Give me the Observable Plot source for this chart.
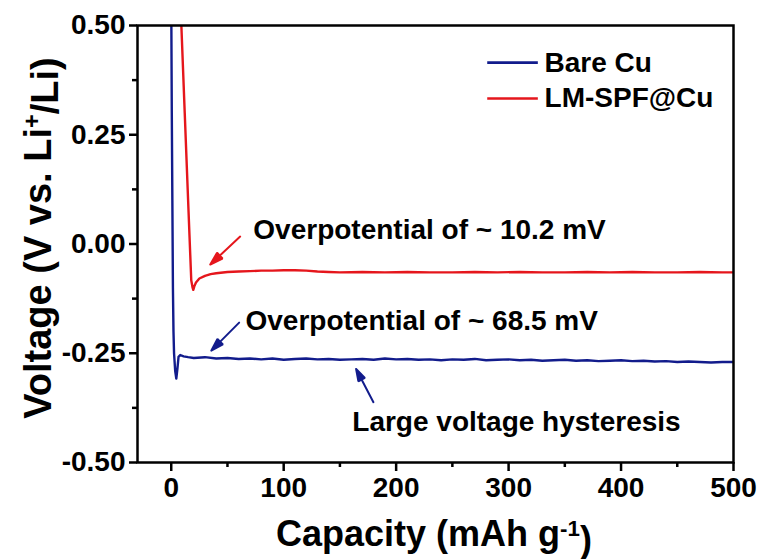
<!DOCTYPE html>
<html>
<head>
<meta charset="utf-8">
<script src="https://cdn.jsdelivr.net/npm/d3@7"></script>
<script src="https://cdn.jsdelivr.net/npm/@observablehq/plot@0.6"></script>
<style>
  html, body { margin: 0; padding: 0; background: #fff; }
  #chart { width: 761px; height: 559px; }
</style>
</head>
<body>
<div id="chart"></div>
<script>
// ---- data ----
const seriesNames = ["Bare Cu", "LM-SPF@Cu"];
const seriesColors = ["#121c8c", "#e5161c"];

const bareX = [0, 0.5, 1, 1.5, 2, 2.5, 3.5, 4.5, 5.5, 6.5, 8, 11, 15,
  20, 30, 40, 50, 60, 70, 80, 90, 100, 110,
  120, 130, 140, 150, 160, 170, 180, 190, 200, 210,
  220, 230, 240, 250, 260, 270, 280, 290, 300, 310,
  320, 330, 340, 350, 360, 370, 380, 390, 400, 410,
  420, 430, 440, 450, 460, 470, 480, 490, 500];
const bareY = [0.56, 0.3, 0.1, -0.1, -0.2, -0.25, -0.29, -0.308, -0.285, -0.258, -0.254, -0.257, -0.259,
  -0.261, -0.259, -0.262, -0.261, -0.263, -0.262, -0.264, -0.262, -0.265, -0.263,
  -0.262, -0.264, -0.263, -0.265, -0.264, -0.263, -0.265, -0.262, -0.264, -0.263,
  -0.265, -0.264, -0.266, -0.264, -0.265, -0.263, -0.266, -0.265, -0.264, -0.266,
  -0.265, -0.267, -0.266, -0.265, -0.267, -0.266, -0.268, -0.267, -0.266, -0.268,
  -0.267, -0.269, -0.268, -0.270, -0.269, -0.270, -0.271, -0.270, -0.270];

const lmX = [8.5, 9, 12, 15, 17.8, 19, 19.6, 20.5, 22, 25, 30, 35, 40, 50, 60, 70, 80, 90, 100,
  110, 120, 130, 140, 150, 170, 190, 210, 230, 250, 270, 290, 310, 330, 350, 370, 390,
  410, 430, 450, 470, 490, 500];
const lmY = [0.55, 0.5, 0.3, 0.1, -0.083, -0.1, -0.105, -0.097, -0.088, -0.079, -0.073, -0.069, -0.067, -0.064, -0.063, -0.062, -0.061, -0.061, -0.060,
  -0.060, -0.061, -0.063, -0.064, -0.065, -0.064, -0.065, -0.064, -0.065, -0.065, -0.064, -0.065, -0.064, -0.065, -0.065, -0.064, -0.065,
  -0.064, -0.065, -0.065, -0.064, -0.065, -0.065];

const xTicks = [0, 100, 200, 300, 400, 500];
const xMinor = [50, 150, 250, 350, 450];
const yTicks = [-0.5, -0.25, 0, 0.25, 0.5];
const yMinor = [-0.375, -0.125, 0.125, 0.375];

const noteText = ["Overpotential of ~ 10.2 mV", "Overpotential of ~ 68.5 mV", "Large voltage hysteresis"];
const noteX = [73, 66, 161];
const noteY = [0.031, -0.177, -0.408];
const arrowX1 = [61.3, 60.4, 179.8];
const arrowY1 = [0.017, -0.180, -0.362];
const arrowX2 = [34.7, 35.6, 164.4];
const arrowY2 = [-0.047, -0.244, -0.286];
const arrowColor = [seriesColors[1], seriesColors[0], seriesColors[0]];

const legendX1 = 281, legendX2 = 326, legendTextX = 332;
const legendY = [0.415, 0.333];

// ---- tables ----
const bare = bareX.map((x, i) => ({x, y: bareY[i]}));
const lm = lmX.map((x, i) => ({x, y: lmY[i]}));
const notes = noteText.map((t, i) => ({t, x: noteX[i], y: noteY[i]}));
const arrows = arrowX1.map((x1, i) => ({x1, y1: arrowY1[i], x2: arrowX2[i], y2: arrowY2[i], c: arrowColor[i]}));
const legend = seriesNames.map((n, i) => ({n, c: seriesColors[i], y: legendY[i]}));

const FONT = "'Liberation Sans', Arial, Helvetica, sans-serif";

const svg = Plot.plot({
  width: 761,
  height: 559,
  marginLeft: 137,
  marginRight: 28,
  marginTop: 25,
  marginBottom: 97,
  x: {domain: [-30, 500]},
  y: {domain: [-0.5, 0.5]},
  style: {fontFamily: FONT, fontWeight: "bold", background: "#fff", color: "#000"},
  marks: [
    Plot.line(bare, {x: "x", y: "y", stroke: seriesColors[0], strokeWidth: 2.4, clip: true}),
    Plot.line(lm, {x: "x", y: "y", stroke: seriesColors[1], strokeWidth: 2.4, clip: true}),
    Plot.arrow(arrows, {x1: "x1", y1: "y1", x2: "x2", y2: "y2", stroke: "c", strokeWidth: 2, headLength: 13, headAngle: 34, className: "annot-arrow"}),
    Plot.text(notes, {x: "x", y: "y", text: "t", textAnchor: "start", lineAnchor: "middle", fontSize: 28, fontWeight: "bold", fill: "#000"}),
    Plot.link(legend, {x1: legendX1, x2: legendX2, y1: "y", y2: "y", stroke: "c", strokeWidth: 2.6}),
    Plot.text(legend, {x: legendTextX, y: "y", text: "n", textAnchor: "start", lineAnchor: "middle", fontSize: 28, fontWeight: "bold", fill: "#000"}),
    Plot.axisY({ticks: yTicks, tickSize: 8, tickPadding: 4, tickFormat: d => d.toFixed(2), fontSize: 28, fontWeight: "bold", strokeWidth: 2.5, label: null}),
    Plot.axisY({ticks: yMinor, tickSize: 5, tickFormat: () => "", strokeWidth: 2.5, label: null}),
    Plot.axisX({ticks: xTicks, tickSize: 9, tickPadding: 6, tickFormat: d => String(d), fontSize: 28, fontWeight: "bold", strokeWidth: 2.5, label: null}),
    Plot.axisX({ticks: xMinor, tickSize: 5, tickFormat: () => "", strokeWidth: 2.5, label: null}),
    Plot.frame({stroke: "#000", strokeWidth: 2.5})
  ]
});

const s = d3.select(svg);

// turn the open arrow heads into filled triangles
s.selectAll("g.annot-arrow path").each(function () {
  const p = d3.select(this);
  const nums = (p.attr("d") || "").match(/-?\d*\.?\d+(?:e-?\d+)?/g);
  if (!nums || nums.length < 10) return;
  const n = nums.map(Number);
  const [x1, y1, x2, y2, hx1, hy1, , , hx2, hy2] = n;
  p.attr("d", `M${x1},${y1}L${x2},${y2}M${hx1},${hy1}L${x2},${y2}L${hx2},${hy2}Z`)
   .attr("fill", p.attr("stroke") || null)
   .attr("stroke-linejoin", "miter");
});

// axis titles with superscripts
const yt = s.append("text")
  .attr("transform", "translate(51,238) rotate(-90)")
  .attr("text-anchor", "middle")
  .attr("font-family", FONT).attr("font-weight", "bold").attr("font-size", 38).attr("fill", "#000");
yt.append("tspan").text("Voltage (V vs. Li");
yt.append("tspan").attr("dy", "-0.45em").attr("font-size", "0.62em").text("+");
yt.append("tspan").attr("dy", "0.45em").text("/Li)");

const xt = s.append("text")
  .attr("x", 434).attr("y", 546)
  .attr("text-anchor", "middle")
  .attr("font-family", FONT).attr("font-weight", "bold").attr("font-size", 36).attr("fill", "#000");
xt.append("tspan").text("Capacity (mAh g");
xt.append("tspan").attr("dy", "-0.45em").attr("font-size", "0.62em").text("-1");
xt.append("tspan").attr("dy", "0.45em").text(")");

document.getElementById("chart").appendChild(svg);
</script>
</body>
</html>
